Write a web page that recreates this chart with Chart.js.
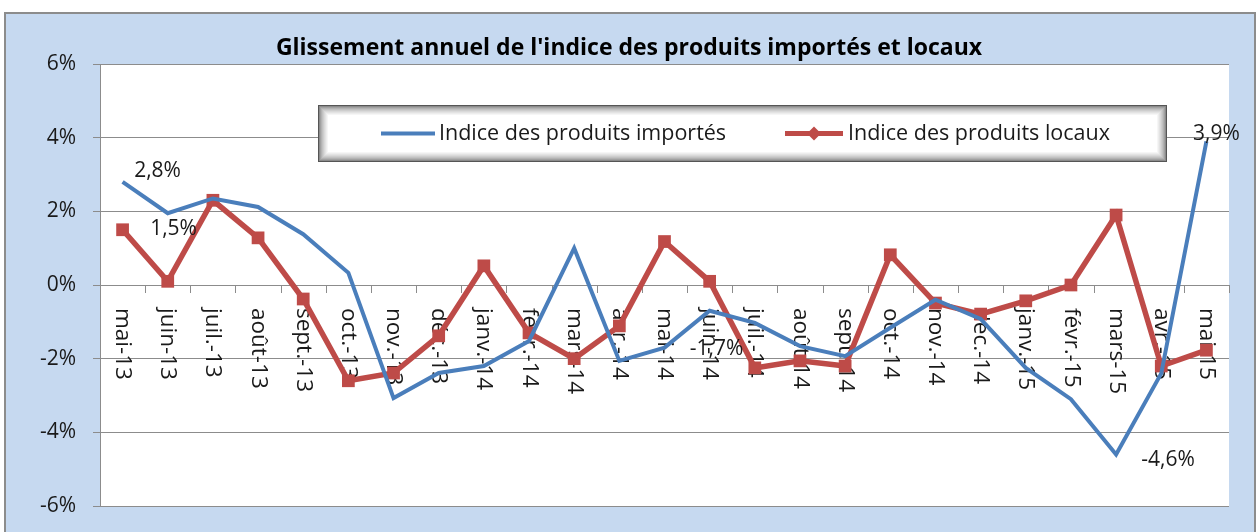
<!DOCTYPE html>
<html>
<head>
<meta charset="utf-8">
<script src="https://cdn.jsdelivr.net/npm/chart.js@4"></script>
<style>
html, body { margin: 0; padding: 0; background: #fff; overflow: hidden; width: 1258px; height: 532px; }
#frame { position: absolute; left: 4px; top: 12px; width: 1248px; height: 540px; background: #c6d9f0; border: 2px solid #8c8c8c; }
#wrap { position: absolute; left: 0; top: 0; width: 1258px; height: 532px; }
</style>
</head>
<body>
<div id="frame"></div>
<div id="wrap"><canvas id="chart"></canvas></div>
<script>
// Glissement annuel (%), mai-13 .. mai-15
const chartTitle = "Glissement annuel de l'indice des produits importés et locaux";
const months = ['mai-13', 'juin-13', 'juil.-13', 'août-13', 'sept.-13', 'oct.-13', 'nov.-13', 'déc.-13',
  'janv.-14', 'févr.-14', 'mars-14', 'avr.-14', 'mai-14', 'juin-14', 'juil.-14', 'août-14', 'sept.-14',
  'oct.-14', 'nov.-14', 'déc.-14', 'janv.-15', 'févr.-15', 'mars-15', 'avr.-15', 'mai-15'];
const importes = [2.8, 1.95, 2.35, 2.12, 1.38, 0.33, -3.07, -2.39, -2.2, -1.52, 1.0, -2.06, -1.7,
  -0.7, -1.03, -1.66, -1.93, -1.16, -0.4, -0.92, -2.25, -3.1, -4.6, -2.4, 3.9];
const locaux = [1.5, 0.1, 2.3, 1.28, -0.38, -2.6, -2.39, -1.38, 0.52, -1.3, -2.0, -1.11, 1.18,
  0.1, -2.25, -2.06, -2.2, 0.82, -0.49, -0.79, -0.43, 0.0, 1.9, -2.2, -1.77];
const yTicks = [-6, -4, -2, 0, 2, 4, 6];
// [serie, index, texte]
const pointLabels = [[0, 0, '2,8%'], [1, 0, '1,5%'], [0, 12, '-1,7%'], [0, 22, '-4,6%'], [0, 24, '3,9%']];

const FONT = "'Open Sans', sans-serif";
const TXT = '#1a1a1a';
const GRID = '#8c8c8c';
const labelOffsets = [[35, -11], [51, -1], [52, 1], [52, 6], [10, -7]];

const decor = {
  id: 'decor',
  beforeDraw(chart) {
    const { ctx, chartArea: a } = chart;
    ctx.save();
    ctx.fillStyle = '#fff';
    ctx.fillRect(a.left, a.top, a.right - a.left, a.bottom - a.top);
    ctx.fillStyle = '#000';
    ctx.font = 'bold 23px ' + FONT;
    ctx.textAlign = 'center';
    ctx.textBaseline = 'middle';
    ctx.fillText(chartTitle, chart.width / 2, 48);
    ctx.restore();
  },
  beforeDatasetsDraw(chart) {
    const { ctx } = chart;
    const xs = chart.scales.x, ys = chart.scales.y;
    const y0 = ys.getPixelForValue(0);
    const step = xs.getPixelForValue(1) - xs.getPixelForValue(0);
    ctx.save();
    // tick marks on the 0 axis
    ctx.strokeStyle = GRID;
    ctx.lineWidth = 1;
    ctx.beginPath();
    for (let i = 0; i < months.length; i++) {
      const x = Math.round(xs.getPixelForValue(i) + step / 2) + 0.5;
      ctx.moveTo(x, y0);
      ctx.lineTo(x, y0 + 8);
    }
    ctx.stroke();
    // rotated category labels
    ctx.fillStyle = TXT;
    ctx.font = '22.5px ' + FONT;
    ctx.textAlign = 'left';
    ctx.textBaseline = 'middle';
    months.forEach((m, i) => {
      ctx.save();
      ctx.translate(xs.getPixelForValue(i), y0 + 23);
      ctx.rotate(Math.PI / 2);
      ctx.fillText(m, 0, 0);
      ctx.restore();
    });
    // legend box
    const bx = 318, by = 105, bw = 849, bh = 57;
    for (let k = 0; k < 11; k++) {
      const c = Math.round(85 + (255 - 85) * Math.sqrt(k / 10));
      ctx.fillStyle = 'rgb(' + c + ',' + c + ',' + c + ')';
      ctx.fillRect(bx + k, by + k, bw - k * 2, bh - k * 2);
    }
    const ly = by + bh / 2;
    const ds = chart.data.datasets;
    ctx.lineWidth = 4;
    ctx.strokeStyle = ds[0].borderColor;
    ctx.beginPath(); ctx.moveTo(381, ly); ctx.lineTo(435, ly); ctx.stroke();
    ctx.lineWidth = 5;
    ctx.strokeStyle = ds[1].borderColor;
    ctx.beginPath(); ctx.moveTo(785, ly); ctx.lineTo(843, ly); ctx.stroke();
    ctx.fillStyle = ds[1].borderColor;
    ctx.beginPath();
    ctx.moveTo(814, ly - 7); ctx.lineTo(821, ly); ctx.lineTo(814, ly + 7); ctx.lineTo(807, ly);
    ctx.closePath(); ctx.fill();
    ctx.fillStyle = TXT;
    ctx.font = '21.5px ' + FONT;
    ctx.fillText(ds[0].label, 439, ly);
    ctx.fillText(ds[1].label, 848, ly);
    ctx.restore();
  },
  afterDatasetsDraw(chart) {
    const { ctx } = chart;
    ctx.save();
    ctx.fillStyle = TXT;
    ctx.font = '21px ' + FONT;
    ctx.textAlign = 'center';
    ctx.textBaseline = 'middle';
    pointLabels.forEach(([s, i, t], k) => {
      const p = chart.getDatasetMeta(s).data[i];
      ctx.fillText(t, p.x + labelOffsets[k][0], p.y + labelOffsets[k][1]);
    });
    ctx.restore();
  }
};

new Chart(document.getElementById('chart'), {
  type: 'line',
  data: {
    labels: months,
    datasets: [{
      label: 'Indice des produits importés',
      data: importes,
      borderColor: '#4a7ebb',
      borderWidth: 4,
      pointRadius: 0,
      tension: 0
    }, {
      label: 'Indice des produits locaux',
      data: locaux,
      borderColor: '#be4b48',
      backgroundColor: '#be4b48',
      borderWidth: 5.5,
      pointStyle: 'rect',
      pointRadius: 9,
      pointBorderWidth: 0,
      tension: 0
    }]
  },
  options: {
    responsive: true,
    maintainAspectRatio: false,
    animation: false,
    layout: { padding: { left: 0, right: 29, top: 64, bottom: 26 } },
    plugins: {
      legend: { display: false },
      tooltip: { enabled: false },
      title: { display: false }
    },
    scales: {
      x: {
        display: false,
        offset: true
      },
      y: {
        min: -6,
        max: 6,
        afterFit(scale) {
          scale.width = 100;
          scale.paddingTop = 0;
          scale.paddingBottom = 0;
        },
        afterBuildTicks(scale) { scale.ticks = yTicks.map(v => ({ value: v })); },
        ticks: {
          padding: 17,
          color: TXT,
          font: { family: FONT, size: 21 },
          callback: v => v + '%'
        },
        grid: { color: GRID, tickLength: 7 },
        border: { color: GRID }
      }
    }
  },
  plugins: [decor]
});
</script>
</body>
</html>
